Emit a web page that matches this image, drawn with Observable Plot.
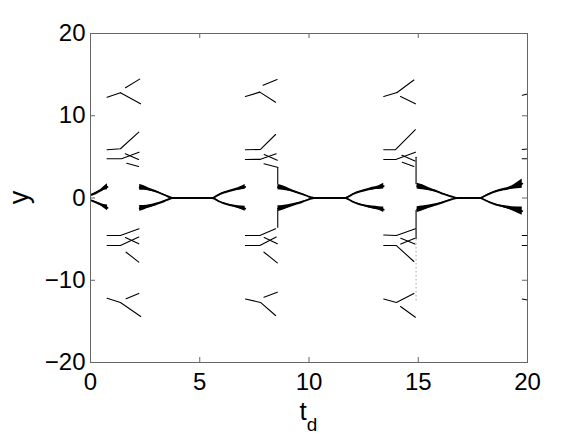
<!DOCTYPE html>
<html><head><meta charset="utf-8">
<script src="https://cdn.jsdelivr.net/npm/d3@7"></script>
<script src="https://cdn.jsdelivr.net/npm/@observablehq/plot@0.6"></script>
<style>body{margin:0;background:#fff;} #chart svg{display:block;}</style>
</head><body><div id="chart"></div>
<script>
// ---- tick values ----
const xTicks = [0, 5, 10, 15, 20];
const yTicks = [-20, -10, 0, 10, 20];

// ---- small-amplitude branches: [t_d, yLow, yHigh] ----
const branchA_up = [[0.05,0.30,0.45],[0.25,0.50,0.70],[0.45,0.75,1.00],[0.62,0.95,1.40],[0.78,1.00,1.72]];
const branchA_dn = [[0.05,-0.40,-0.25],[0.25,-0.62,-0.45],[0.45,-0.92,-0.65],[0.62,-1.25,-0.80],[0.78,-1.55,-0.85]];
const branchB_up = [[2.25,0.95,1.65],[2.45,0.95,1.50],[2.70,0.85,1.20],[2.95,0.70,0.95],[3.20,0.50,0.65],[3.45,0.25,0.35],[3.62,0.08,0.14],[3.74,0,0.03],[5.57,0,0.03],[5.70,0.10,0.16],[5.90,0.38,0.48],[6.15,0.62,0.75],[6.45,0.82,1.00],[6.75,0.95,1.25],[7.08,1.05,1.65]];
const branchB_dn = [[2.25,-1.60,-0.90],[2.45,-1.45,-0.90],[2.70,-1.20,-0.82],[2.95,-0.95,-0.68],[3.20,-0.65,-0.50],[3.45,-0.35,-0.25],[3.62,-0.14,-0.08],[3.74,-0.03,0],[5.57,-0.03,0],[5.70,-0.16,-0.10],[5.90,-0.48,-0.38],[6.15,-0.75,-0.62],[6.45,-1.00,-0.82],[6.75,-1.25,-0.95],[7.08,-1.60,-1.00]];
const branchC_up = [[8.58,1.00,1.65],[8.80,0.95,1.50],[9.10,0.82,1.15],[9.40,0.62,0.82],[9.70,0.40,0.52],[9.95,0.18,0.25],[10.10,0.06,0.10],[10.22,0,0.03],[11.67,0,0.03],[11.80,0.12,0.18],[12.00,0.40,0.50],[12.25,0.65,0.78],[12.55,0.85,1.02],[12.90,0.98,1.30],[13.20,1.05,1.50],[13.42,1.10,1.80]];
const branchC_dn = [[8.58,-1.65,-0.95],[8.80,-1.50,-0.92],[9.10,-1.15,-0.80],[9.40,-0.82,-0.62],[9.70,-0.52,-0.40],[9.95,-0.25,-0.18],[10.10,-0.10,-0.06],[10.22,-0.03,0],[11.67,-0.03,0],[11.80,-0.18,-0.12],[12.00,-0.50,-0.40],[12.25,-0.78,-0.65],[12.55,-1.02,-0.85],[12.90,-1.30,-0.98],[13.20,-1.50,-1.05],[13.42,-1.75,-1.10]];
const branchD_up = [[14.95,1.10,1.80],[15.20,1.00,1.60],[15.50,0.88,1.25],[15.85,0.68,0.90],[16.15,0.45,0.55],[16.45,0.20,0.27],[16.65,0.06,0.10],[16.78,0,0.03],[17.85,0,0.03],[18.00,0.15,0.22],[18.25,0.45,0.55],[18.55,0.72,0.88],[18.90,0.92,1.15],[19.30,1.05,1.50],[19.76,1.20,2.30]];
const branchD_dn = [[14.95,-1.75,-1.05],[15.20,-1.55,-0.98],[15.50,-1.22,-0.86],[15.85,-0.90,-0.68],[16.15,-0.55,-0.45],[16.45,-0.27,-0.20],[16.65,-0.10,-0.06],[16.78,-0.03,0],[17.85,-0.03,0],[18.00,-0.22,-0.15],[18.25,-0.55,-0.45],[18.55,-0.88,-0.72],[18.90,-1.15,-0.92],[19.30,-1.55,-1.05],[19.76,-2.10,-1.10]];

// ---- large-amplitude orbit paths: lists of [t_d, y] ----
const orbit1 = [
  [[0.76,12.25],[1.37,12.8]],
  [[1.37,12.8],[2.29,11.45]],
  [[1.60,13.4],[2.25,14.45]],
  [[0.76,5.87],[1.37,5.99],[2.21,8.0]],
  [[0.76,4.77],[1.42,4.77],[2.22,5.57]],
  [[1.59,5.38],[2.20,4.68]],
  [[1.66,4.23],[2.20,3.83]],
  [[0.76,-4.56],[1.37,-4.56],[2.22,-3.74]],
  [[0.76,-5.78],[1.37,-5.78],[2.21,-4.75]],
  [[1.60,-4.80],[2.21,-5.57]],
  [[1.63,-6.59],[2.21,-7.8]],
  [[0.76,-12.2],[1.37,-12.7],[2.30,-14.4]],
  [[1.63,-12.25],[2.21,-11.6]]
];
const orbit2 = [
  [[7.09,12.34],[7.75,12.87]],
  [[7.75,12.87],[8.47,11.65]],
  [[7.90,13.7],[8.54,14.4]],
  [[7.09,5.87],[7.78,5.9],[8.47,7.72]],
  [[7.09,4.68],[7.78,4.7],[8.50,5.37]],
  [[7.95,5.3],[8.55,4.6]],
  [[7.94,4.16],[8.55,3.74]],
  [[8.57,3.74],[8.57,1.73]],
  [[7.09,-4.56],[7.75,-4.56],[8.47,-3.74]],
  [[7.09,-5.78],[7.75,-5.78],[8.50,-4.75]],
  [[7.95,-4.8],[8.55,-5.55]],
  [[7.94,-6.59],[8.55,-7.88]],
  [[8.57,-1.52],[8.57,-3.55]],
  [[7.09,-12.28],[7.78,-12.7],[8.47,-14.29]],
  [[7.94,-12.06],[8.55,-11.45]]
];
const orbit3 = [
  [[13.42,12.34],[14.03,12.82]],
  [[14.03,12.82],[14.80,14.35]],
  [[14.19,12.34],[14.87,11.45]],
  [[13.42,5.87],[13.96,5.87],[14.87,8.3]],
  [[13.42,4.68],[14.00,4.7],[14.87,5.57]],
  [[14.25,5.2],[14.85,4.5]],
  [[14.27,4.35],[14.80,3.83]],
  [[14.90,4.96],[14.90,1.73]],
  [[13.42,-4.5],[14.00,-4.56],[14.87,-3.74]],
  [[13.42,-5.78],[14.00,-5.78],[14.80,-7.72]],
  [[14.20,-4.9],[14.85,-5.6]],
  [[14.20,-5.6],[14.85,-4.9]],
  [[14.90,-1.52],[14.90,-4.92]],
  [[13.42,-12.28],[14.00,-12.7],[14.80,-11.6]],
  [[14.19,-13.19],[14.87,-14.49]]
];
const orbit4 = [
  [[19.76,12.5],[20,12.65]],
  [[19.76,5.9],[20,5.95]],
  [[19.76,4.77],[20,4.77]],
  [[19.76,-4.56],[20,-4.56]],
  [[19.76,-5.78],[20,-5.78]],
  [[19.76,-12.28],[20,-12.4]]
];
const faintTransient = [[14.90,-5.0],[14.90,-12.5]];

// ---- build tables ----
const bandRows = [];
[["A+",branchA_up],["A-",branchA_dn],["B+",branchB_up],["B-",branchB_dn],
 ["C+",branchC_up],["C-",branchC_dn],["D+",branchD_up],["D-",branchD_dn]]
  .forEach(([id, arr]) => arr.forEach(([t, lo, hi]) => bandRows.push({id, t, lo, hi})));
const orbitRows = [];
[orbit1, orbit2, orbit3, orbit4].forEach((grp, gi) =>
  grp.forEach((path, pi) => path.forEach(([t, y]) => orbitRows.push({id: gi + "-" + pi, t, y}))));
const faintRows = faintTransient.map(([t, y]) => ({t, y}));

const W = 584, H = 439, mL = 90, mR = 57, mT = 33, mB = 77;
const fw = W - mL - mR, fh = H - mT - mB, tk = 5;
const axisColor = "#666";

const plot = Plot.plot({
  width: W, height: H,
  marginLeft: mL, marginRight: mR, marginTop: mT, marginBottom: mB,
  style: {fontFamily: "'Liberation Sans', Arial, Helvetica, sans-serif", fontSize: "24px", background: "white", color: "black"},
  x: {domain: [0, 20]},
  y: {domain: [-20, 20]},
  marks: [
    Plot.areaY(bandRows, {x: "t", y1: "lo", y2: "hi", z: "id", fill: "black", curve: "monotone-x"}),
    Plot.line(bandRows, {x: "t", y: d => (d.lo + d.hi) / 2, z: "id", stroke: "black", strokeWidth: 1.8, curve: "monotone-x"}),
    Plot.line(orbitRows, {x: "t", y: "y", z: "id", stroke: "black", strokeWidth: 1.1}),
    Plot.line(faintRows, {x: "t", y: "y", stroke: "#aaa", strokeWidth: 1, strokeDasharray: "1,3"}),
    Plot.tickX(xTicks, {x: d => d, insetTop: fh - tk, stroke: axisColor}),
    Plot.tickX(xTicks, {x: d => d, insetBottom: fh - tk, stroke: axisColor}),
    Plot.tickY(yTicks, {y: d => d, insetRight: fw - tk, stroke: axisColor}),
    Plot.tickY(yTicks, {y: d => d, insetLeft: fw - tk, stroke: axisColor}),
    Plot.frame({stroke: axisColor}),
    Plot.axisX({ticks: xTicks, tickSize: 0, tickPadding: 10, label: null, fontSize: 24}),
    Plot.axisY({ticks: yTicks, tickSize: 0, tickPadding: 5, label: null, fontSize: 24})
  ]
});

const svg = d3.select(plot);
const xs = plot.scale("x"), ys = plot.scale("y");
// x label: t with subscript d
const xl = svg.append("text")
  .attr("x", xs.apply(10)).attr("y", 420)
  .attr("text-anchor", "middle")
  .attr("font-size", 26).attr("fill", "black")
  .attr("font-family", "'Liberation Sans', Arial, sans-serif");
xl.append("tspan").text("t");
xl.append("tspan").attr("dy", 11).attr("font-size", 19).text("d");
// y label
svg.append("text")
  .attr("transform", `translate(28,${ys.apply(0)}) rotate(-90)`)
  .attr("text-anchor", "middle")
  .attr("font-size", 27).attr("fill", "black")
  .attr("font-family", "'Liberation Sans', Arial, sans-serif")
  .text("y");

document.getElementById("chart").appendChild(plot);
</script>
</body></html>
